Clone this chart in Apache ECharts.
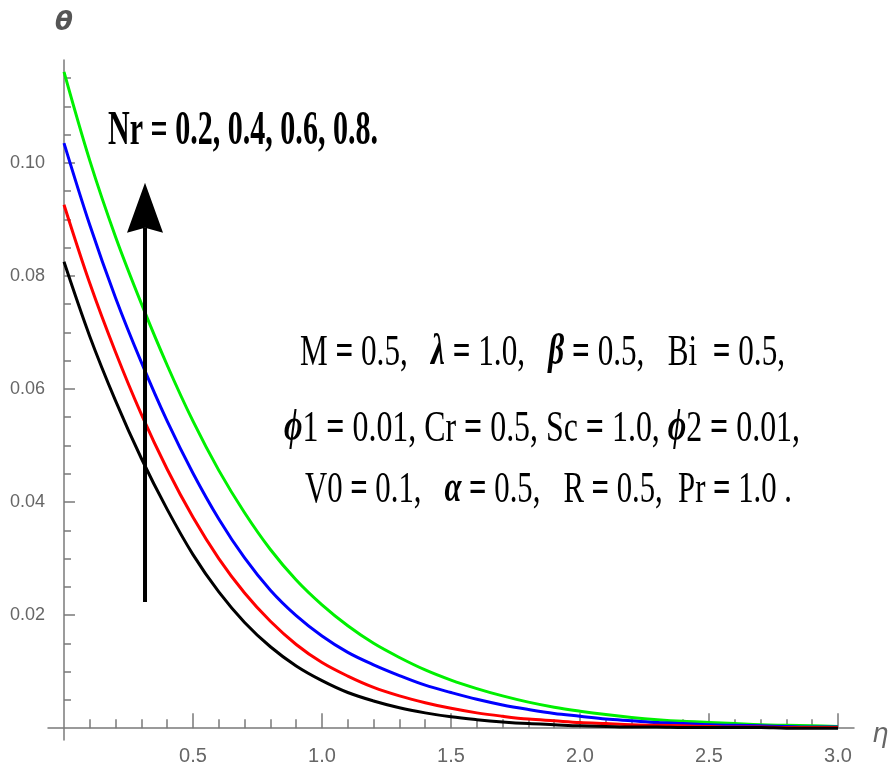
<!DOCTYPE html>
<html>
<head>
<meta charset="utf-8">
<script src="https://cdn.jsdelivr.net/npm/echarts@6/dist/echarts.min.js"></script>
<style>
  html, body { margin: 0; padding: 0; background: #ffffff; }
  #chart { width: 889px; height: 778px; }
</style>
</head>
<body>
<div id="chart"></div>
<script>
// Similarity variable and temperature profiles for the four Nr values
const eta = [0, 0.1, 0.2, 0.3, 0.4, 0.5, 0.6, 0.7, 0.8, 0.9, 1.0,
             1.1, 1.2, 1.3, 1.4, 1.5, 1.6, 1.7, 1.8, 1.9, 2.0,
             2.1, 2.2, 2.3, 2.4, 2.5, 2.6, 2.7, 2.8, 2.9, 3.0];
const thetaNr02 = [0.0825, 0.0693, 0.0579, 0.0477, 0.0387, 0.0307, 0.0241, 0.0187, 0.0144, 0.0110, 0.0084,
                   0.0063, 0.0048, 0.0036, 0.0027, 0.0020, 0.0015, 0.0011, 0.0008, 0.0006, 0.0004,
                   0.0003, 0.0002, 0.0002, 0.0001, 0.0001, 0.0001, 0.0001, 0.0000, 0.0000, 0.0000];
const thetaNr04 = [0.0926, 0.0787, 0.0665, 0.0555, 0.0458, 0.0373, 0.0300, 0.0239, 0.0189, 0.0148, 0.0116,
                   0.0092, 0.0072, 0.0057, 0.0045, 0.0035, 0.0027, 0.0021, 0.0016, 0.0013, 0.0010,
                   0.0008, 0.0006, 0.0005, 0.0004, 0.0003, 0.0002, 0.0002, 0.0001, 0.0001, 0.0001];
const thetaNr06 = [0.1035, 0.0890, 0.0761, 0.0647, 0.0543, 0.0451, 0.0370, 0.0301, 0.0244, 0.0199, 0.0163,
                   0.0134, 0.0112, 0.0093, 0.0076, 0.0063, 0.0051, 0.0041, 0.0033, 0.0026, 0.0021,
                   0.0016, 0.0013, 0.0010, 0.0008, 0.0006, 0.0005, 0.0004, 0.0003, 0.0002, 0.0002];
const thetaNr08 = [0.1161, 0.1004, 0.0869, 0.0751, 0.0642, 0.0543, 0.0456, 0.0381, 0.0316, 0.0262, 0.0218,
                   0.0181, 0.0150, 0.0125, 0.0103, 0.0085, 0.0070, 0.0057, 0.0046, 0.0037, 0.0030,
                   0.0024, 0.0019, 0.0015, 0.0012, 0.0010, 0.0008, 0.0006, 0.0005, 0.0004, 0.0003];

// Tick values
const xTickLabels = [0.5, 1.0, 1.5, 2.0, 2.5, 3.0];
const xMinorTicks = [0.1, 0.2, 0.3, 0.4, 0.6, 0.7, 0.8, 0.9, 1.1, 1.2, 1.3, 1.4, 1.6, 1.7, 1.8, 1.9,
                     2.1, 2.2, 2.3, 2.4, 2.6, 2.7, 2.8, 2.9];
const yTickLabels = [0.02, 0.04, 0.06, 0.08, 0.10];
const yMinorTicks = [0.005, 0.01, 0.015, 0.025, 0.03, 0.035, 0.045, 0.05, 0.055, 0.065, 0.07, 0.075,
                     0.085, 0.09, 0.095, 0.105, 0.11, 0.115];

// Annotation text
const nrLabel = 'Nr = 0.2, 0.4, 0.6, 0.8.';
const paramLines = [
  'M = 0.5,   λ = 1.0,   β = 0.5,   Bi  = 0.5,',
  'ϕ1 = 0.01, Cr = 0.5, Sc = 1.0, ϕ2 = 0.01,',
  'V0 = 0.1,   α = 0.5,   R = 0.5,  Pr = 1.0 .'
];

const AXIS_GRAY = '#7a7a7a';
const LABEL_GRAY = '#666666';
const TICK_FONT = "'Liberation Sans', 'Arimo', sans-serif";
const SERIF = "'Liberation Serif', 'DejaVu Serif', serif";

const chart = echarts.init(document.getElementById('chart'), null, { renderer: 'canvas' });

const X_MIN = -0.062, X_MAX = 3.062;
const Y_MIN = -0.0021, Y_MAX = 0.1182;

function pairs(ys) { return eta.map((x, i) => [x, ys[i]]); }

function curve(name, ys, color) {
  return {
    name, type: 'line', data: pairs(ys),
    xAxisIndex: 0, yAxisIndex: 0,
    showSymbol: false, smooth: 0.35,
    lineStyle: { color, width: 3 }, itemStyle: { color },
    z: 3, silent: true
  };
}

chart.setOption({
  animation: false,
  backgroundColor: '#ffffff',
  grid: { left: 48, right: 35, top: 60, bottom: 38, containLabel: false, outerBoundsMode: 'none' },
  xAxis: [
    {
      type: 'value', min: X_MIN, max: X_MAX,
      axisLine: { show: true, onZero: true, onZeroAxisIndex: 0, lineStyle: { color: AXIS_GRAY, width: 1.5 } },
      axisTick: { show: true, inside: true, length: 15, customValues: xTickLabels, lineStyle: { color: AXIS_GRAY, width: 1.5 } },
      axisLabel: {
        show: true, customValues: xTickLabels, margin: 6,
        formatter: v => v.toFixed(1),
        color: LABEL_GRAY, fontFamily: TICK_FONT, fontSize: 20
      },
      splitLine: { show: false },
      name: 'η', nameLocation: 'end', nameGap: 18,
      nameTextStyle: { color: LABEL_GRAY, fontFamily: "'DejaVu Sans', sans-serif", fontStyle: 'italic', fontSize: 26, verticalAlign: 'top', padding: [-6, 0, 0, 0] }
    },
    {
      type: 'value', min: X_MIN, max: X_MAX, position: 'bottom',
      axisLine: { show: false, onZero: true, onZeroAxisIndex: 0 },
      axisTick: { show: true, inside: true, length: 9, customValues: xMinorTicks, lineStyle: { color: AXIS_GRAY, width: 1.5 } },
      axisLabel: { show: false },
      splitLine: { show: false }
    }
  ],
  yAxis: [
    {
      type: 'value', min: Y_MIN, max: Y_MAX,
      axisLine: { show: true, onZero: true, onZeroAxisIndex: 0, lineStyle: { color: AXIS_GRAY, width: 1.5 } },
      axisTick: { show: true, inside: true, length: 11, customValues: yTickLabels, lineStyle: { color: AXIS_GRAY, width: 1.5 } },
      axisLabel: {
        show: true, customValues: yTickLabels, margin: 3,
        formatter: v => v.toFixed(2),
        color: LABEL_GRAY, fontFamily: TICK_FONT, fontSize: 18
      },
      splitLine: { show: false },
      name: 'θ', nameLocation: 'end', nameGap: 24,
      nameTextStyle: { color: '#555555', fontFamily: "'DejaVu Sans', sans-serif", fontStyle: 'italic', fontWeight: 'bold', fontSize: 26, align: 'center' }
    },
    {
      type: 'value', min: Y_MIN, max: Y_MAX, position: 'left',
      axisLine: { show: false, onZero: true, onZeroAxisIndex: 0 },
      axisTick: { show: true, inside: true, length: 7, customValues: yMinorTicks, lineStyle: { color: AXIS_GRAY, width: 1.5 } },
      axisLabel: { show: false },
      splitLine: { show: false }
    }
  ],
  series: [
    curve('Nr = 0.8', thetaNr08, '#00f000'),
    curve('Nr = 0.6', thetaNr06, '#0000ff'),
    curve('Nr = 0.4', thetaNr04, '#ff0000'),
    curve('Nr = 0.2', thetaNr02, '#000000')
  ]
});

// ---- annotations: condensed serif text and the trend arrow ----
const measureCtx = document.createElement('canvas').getContext('2d');
function textWidth(txt, font) { measureCtx.font = font; return measureCtx.measureText(txt).width; }

const richStyles = {
  r: { fontFamily: SERIF, fontSize: 44, fontWeight: 'normal', fontStyle: 'normal', fill: '#000' },
  e: { fontFamily: SERIF, fontSize: 44, fontWeight: 'bold', fontStyle: 'normal', fill: '#000' },
  g: { fontFamily: SERIF, fontSize: 44, fontWeight: 'bold', fontStyle: 'italic', fill: '#000' },
  b: { fontFamily: SERIF, fontSize: 48, fontWeight: 'bold', fontStyle: 'normal', fill: '#000' }
};
function fontOf(k) { const s = richStyles[k]; return `${s.fontStyle} ${s.fontWeight} ${s.fontSize}px ${s.fontFamily}`; }

function tokens(str, base) {
  const out = [];
  for (const ch of str) {
    let k = base;
    if (base !== 'b') {
      if ('λβϕα'.includes(ch)) k = 'g';
      else if (ch === '=') k = 'e';
    }
    if (out.length && out[out.length - 1].k === k) out[out.length - 1].t += ch;
    else out.push({ k, t: ch });
  }
  return out;
}

function condensedText(str, base, left, right, cy) {
  const tk = tokens(str, base);
  const w = tk.reduce((s, t) => s + textWidth(t.t, fontOf(t.k)), 0);
  return {
    type: 'text', x: left, y: cy, scaleX: (right - left) / w, scaleY: 1, z: 10, silent: true,
    style: {
      text: tk.map(t => `{${t.k}|${t.t}}`).join(''),
      rich: richStyles, verticalAlign: 'middle', align: 'left', fill: '#000'
    }
  };
}

const ARROW_ETA = 0.314, ARROW_FROM = 0.0223, ARROW_TO = 0.0965;
const toPx = p => chart.convertToPixel({ xAxisIndex: 0, yAxisIndex: 0 }, p);
const aBottom = toPx([ARROW_ETA, ARROW_FROM]);
const aTip = toPx([ARROW_ETA, ARROW_TO]);
const headLen = 50, headHalf = 18, notch = 5;

chart.setOption({
  graphic: [
    condensedText(nrLabel, 'b', 108, 378, 132),
    condensedText(paramLines[0], 'r', 300, 785, 353),
    condensedText(paramLines[1], 'r', 284, 800, 429),
    condensedText(paramLines[2], 'r', 305, 792, 490),
    {
      type: 'line', silent: true, z: 9,
      shape: { x1: aBottom[0], y1: aBottom[1], x2: aTip[0], y2: aTip[1] + headLen - notch },
      style: { stroke: '#000', lineWidth: 4 }
    },
    {
      type: 'polygon', silent: true, z: 9,
      shape: { points: [
        [aTip[0], aTip[1]],
        [aTip[0] - headHalf, aTip[1] + headLen],
        [aTip[0], aTip[1] + headLen - notch],
        [aTip[0] + headHalf, aTip[1] + headLen]
      ] },
      style: { fill: '#000' }
    }
  ]
});
</script>
</body>
</html>
